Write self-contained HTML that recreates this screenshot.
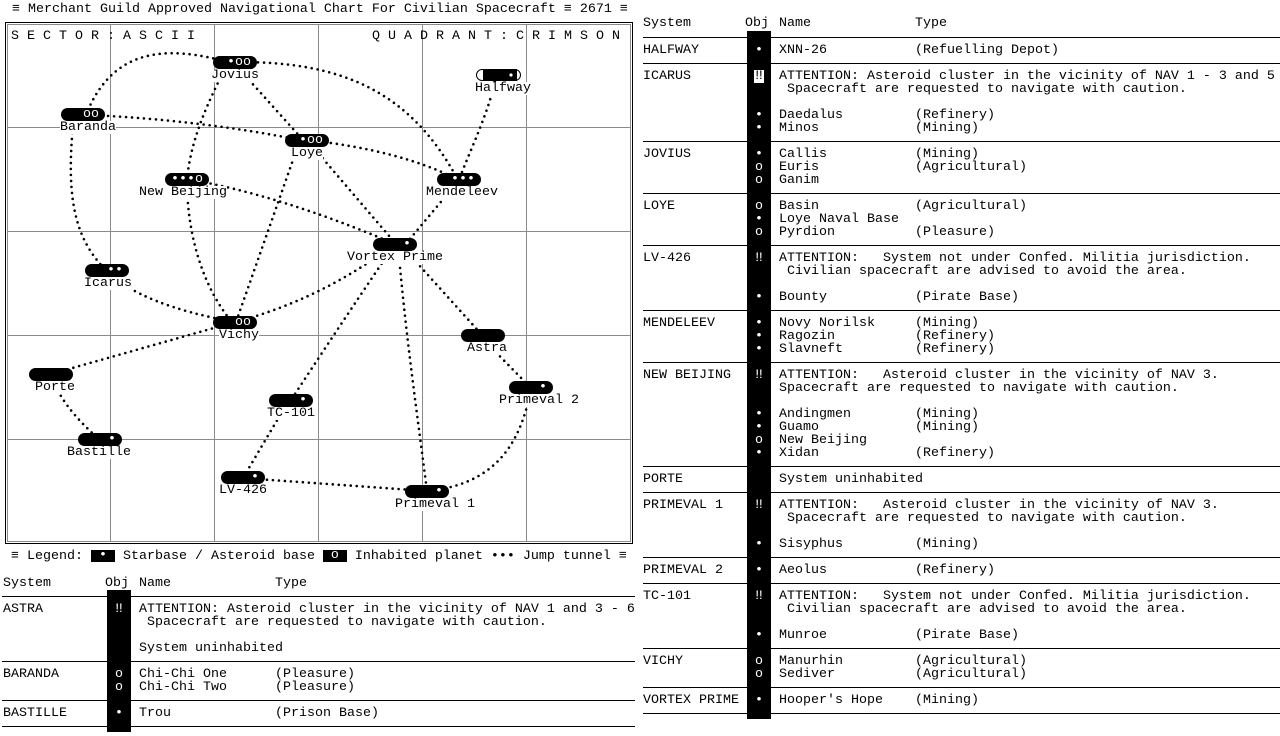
<!DOCTYPE html>
<html><head><meta charset="utf-8"><style>
*{margin:0;padding:0;box-sizing:content-box}
body{width:1280px;height:736px;overflow:hidden;background:#fff;color:#000;font-family:"Liberation Mono","DejaVu Sans Mono",monospace;font-size:13.333px;line-height:13px;position:relative}
.t{position:absolute;white-space:pre;line-height:13px;height:13px}
.w{color:#fff}
.p{position:absolute;width:38px;height:13px;background:#000;border-radius:6.5px;color:#fff;text-align:right;padding-right:6px;line-height:13px;white-space:pre;overflow:hidden}
.l{position:absolute;background:#fff;line-height:13px;height:13px;white-space:pre}
.hl{position:absolute;height:1px;background:#000;left:2px;width:633px}
.hr{position:absolute;height:1px;background:#000;left:643px;width:637px}
.bar{position:absolute;background:#000;width:24px}
.lb{display:inline-block;background:#000;color:#fff;height:12px;line-height:12px;vertical-align:top;margin-top:0}
</style></head><body>

<div class="t" style="left:12px;top:3px">≡ Merchant Guild Approved Navigational Chart For Civilian Spacecraft ≡ 2671 ≡</div>

<svg width="640" height="560" style="position:absolute;left:0;top:0" xmlns="http://www.w3.org/2000/svg">
<rect x="5.5" y="22.5" width="627" height="521" fill="none" stroke="#000"/>
<rect x="7.5" y="24.5" width="623" height="517" fill="none" stroke="#8a8a8a"/>
<path d="M110.5 25V541 M214.5 25V541 M318.5 25V541 M422.5 25V541 M526.5 25V541 M8 127.5H630 M8 231.5H630 M8 335.5H630 M8 439.5H630" stroke="#8a8a8a" fill="none"/>
<g fill="none" stroke="#000" stroke-width="2.6" stroke-linecap="round" stroke-dasharray="0 6">
<path d="M88 110 C110 60 150 42 220 60"/>
<path d="M74 115 C66 190 72 235 104 268"/>
<path d="M90 115 Q200 120 300 140"/>
<path d="M233 62 L303 140"/>
<path d="M240 62 C340 62 410 90 458 180"/>
<path d="M228 62 C215 90 192 130 187 179"/>
<path d="M496 76 C490 110 470 150 459 180"/>
<path d="M307 140 Q400 150 459 180"/>
<path d="M300 140 L236 322"/>
<path d="M307 140 L396 244"/>
<path d="M187 179 Q280 195 395 244"/>
<path d="M187 185 C188 240 205 290 232 322"/>
<path d="M460 179 L404 246"/>
<path d="M106 270 Q140 305 235 322"/>
<path d="M395 244 Q320 300 235 322"/>
<path d="M395 244 Q350 310 291 400"/>
<path d="M398 244 C405 330 418 420 427 491"/>
<path d="M400 244 L483 336"/>
<path d="M479 335 L531 388"/>
<path d="M235 322 L51 374"/>
<path d="M51 374 Q60 405 99 439"/>
<path d="M289 400 L243 478"/>
<path d="M243 478 L427 491"/>
<path d="M427 491 C490 485 520 450 531 388"/>
</g>
<rect x="476.5" y="69.5" width="44" height="11" rx="5.5" fill="#fff" stroke="#000"/>
<rect x="483" y="69" width="34" height="12" fill="#000"/>
<circle cx="511" cy="75" r="1.6" fill="#fff"/>
</svg>

<div class="t" style="left:11px;top:30px">S E C T O R : A S C I I</div>
<div class="t" style="left:372px;top:30px">Q U A D R A N T : C R I M S O N</div>

<!-- pills -->
<div class="p" style="left:213px;top:56px">•oo</div>
<div class="p" style="left:61px;top:108px">oo</div>
<div class="p" style="left:285px;top:134px">•oo</div>
<div class="p" style="left:165px;top:173px">•••o</div>
<div class="p" style="left:437px;top:173px">•••</div>
<div class="p" style="left:373px;top:238px">•</div>
<div class="p" style="left:85px;top:264px">••</div>
<div class="p" style="left:213px;top:316px">oo</div>
<div class="p" style="left:461px;top:329px"></div>
<div class="p" style="left:29px;top:368px"></div>
<div class="p" style="left:509px;top:381px">•</div>
<div class="p" style="left:269px;top:394px">•</div>
<div class="p" style="left:78px;top:433px">•</div>
<div class="p" style="left:221px;top:471px">•</div>
<div class="p" style="left:405px;top:485px">•</div>

<!-- labels -->
<div class="l" style="left:211px;top:69px">Jovius</div>
<div class="l" style="left:475px;top:82px">Halfway</div>
<div class="l" style="left:60px;top:121px">Baranda</div>
<div class="l" style="left:291px;top:147px">Loye</div>
<div class="l" style="left:139px;top:186px">New Beijing</div>
<div class="l" style="left:426px;top:186px">Mendeleev</div>
<div class="l" style="left:347px;top:251px">Vortex Prime</div>
<div class="l" style="left:84px;top:277px">Icarus</div>
<div class="l" style="left:219px;top:329px">Vichy</div>
<div class="l" style="left:467px;top:342px">Astra</div>
<div class="l" style="left:35px;top:381px">Porte</div>
<div class="l" style="left:499px;top:394px">Primeval 2</div>
<div class="l" style="left:267px;top:407px">TC-101</div>
<div class="l" style="left:67px;top:446px">Bastille</div>
<div class="l" style="left:219px;top:484px">LV-426</div>
<div class="l" style="left:395px;top:498px">Primeval 1</div>

<!-- legend -->
<div class="t" style="left:11px;top:550px">≡ Legend: <span class="lb"> • </span> Starbase / Asteroid base <span class="lb"> o </span> Inhabited planet ••• Jump tunnel ≡</div>

<!-- LEFT TABLE -->
<div class="bar" style="left:107px;top:590px;height:142px"></div>
<div class="t" style="left:3px;top:577px">System</div>
<div class="t" style="left:105px;top:577px">Obj</div>
<div class="t" style="left:139px;top:577px">Name</div>
<div class="t" style="left:275px;top:577px">Type</div>
<div class="hl" style="top:596px"></div>
<div class="hl" style="top:661px"></div>
<div class="hl" style="top:700px"></div>
<div class="hl" style="top:726px"></div>

<div class="t" style="left:3px;top:603px">ASTRA</div>
<div class="t w" style="left:115px;top:603px">‼</div>
<div class="t" style="left:139px;top:603px">ATTENTION: Asteroid cluster in the vicinity of NAV 1 and 3 - 6</div>
<div class="t" style="left:139px;top:616px"> Spacecraft are requested to navigate with caution.</div>
<div class="t" style="left:139px;top:642px">System uninhabited</div>

<div class="t" style="left:3px;top:668px">BARANDA</div>
<div class="t w" style="left:115px;top:668px">o</div>
<div class="t" style="left:139px;top:668px">Chi-Chi One</div>
<div class="t" style="left:275px;top:668px">(Pleasure)</div>
<div class="t w" style="left:115px;top:681px">o</div>
<div class="t" style="left:139px;top:681px">Chi-Chi Two</div>
<div class="t" style="left:275px;top:681px">(Pleasure)</div>

<div class="t" style="left:3px;top:707px">BASTILLE</div>
<div class="t w" style="left:115px;top:707px">•</div>
<div class="t" style="left:139px;top:707px">Trou</div>
<div class="t" style="left:275px;top:707px">(Prison Base)</div>

<!-- RIGHT TABLE -->
<div class="bar" style="left:747px;top:31px;height:688px"></div>
<div class="t" style="left:643px;top:17px">System</div>
<div class="t" style="left:745px;top:17px">Obj</div>
<div class="t" style="left:779px;top:17px">Name</div>
<div class="t" style="left:915px;top:17px">Type</div>
<div class="hr" style="top:37px"></div>
<div class="hr" style="top:63px"></div>
<div class="hr" style="top:141px"></div>
<div class="hr" style="top:193px"></div>
<div class="hr" style="top:245px"></div>
<div class="hr" style="top:310px"></div>
<div class="hr" style="top:362px"></div>
<div class="hr" style="top:466px"></div>
<div class="hr" style="top:492px"></div>
<div class="hr" style="top:557px"></div>
<div class="hr" style="top:583px"></div>
<div class="hr" style="top:648px"></div>
<div class="hr" style="top:687px"></div>
<div class="hr" style="top:713px"></div>

<!-- HALFWAY -->
<div class="t" style="left:643px;top:44px">HALFWAY</div>
<div class="t w" style="left:755px;top:44px">•</div>
<div class="t" style="left:779px;top:44px">XNN-26</div>
<div class="t" style="left:915px;top:44px">(Refuelling Depot)</div>

<!-- ICARUS -->
<div class="t" style="left:643px;top:70px">ICARUS</div>
<div class="t" style="left:754px;top:70px;background:#fff;width:10px;text-align:center">‼</div>
<div class="t" style="left:779px;top:70px">ATTENTION: Asteroid cluster in the vicinity of NAV 1 - 3 and 5</div>
<div class="t" style="left:779px;top:83px"> Spacecraft are requested to navigate with caution.</div>
<div class="t w" style="left:755px;top:109px">•</div>
<div class="t" style="left:779px;top:109px">Daedalus</div>
<div class="t" style="left:915px;top:109px">(Refinery)</div>
<div class="t w" style="left:755px;top:122px">•</div>
<div class="t" style="left:779px;top:122px">Minos</div>
<div class="t" style="left:915px;top:122px">(Mining)</div>

<!-- JOVIUS -->
<div class="t" style="left:643px;top:148px">JOVIUS</div>
<div class="t w" style="left:755px;top:148px">•</div>
<div class="t" style="left:779px;top:148px">Callis</div>
<div class="t" style="left:915px;top:148px">(Mining)</div>
<div class="t w" style="left:755px;top:161px">o</div>
<div class="t" style="left:779px;top:161px">Euris</div>
<div class="t" style="left:915px;top:161px">(Agricultural)</div>
<div class="t w" style="left:755px;top:174px">o</div>
<div class="t" style="left:779px;top:174px">Ganim</div>

<!-- LOYE -->
<div class="t" style="left:643px;top:200px">LOYE</div>
<div class="t w" style="left:755px;top:200px">o</div>
<div class="t" style="left:779px;top:200px">Basin</div>
<div class="t" style="left:915px;top:200px">(Agricultural)</div>
<div class="t w" style="left:755px;top:213px">•</div>
<div class="t" style="left:779px;top:213px">Loye Naval Base</div>
<div class="t w" style="left:755px;top:226px">o</div>
<div class="t" style="left:779px;top:226px">Pyrdion</div>
<div class="t" style="left:915px;top:226px">(Pleasure)</div>

<!-- LV-426 -->
<div class="t" style="left:643px;top:252px">LV-426</div>
<div class="t w" style="left:755px;top:252px">‼</div>
<div class="t" style="left:779px;top:252px">ATTENTION:   System not under Confed. Militia jurisdiction.</div>
<div class="t" style="left:779px;top:265px"> Civilian spacecraft are advised to avoid the area.</div>
<div class="t w" style="left:755px;top:291px">•</div>
<div class="t" style="left:779px;top:291px">Bounty</div>
<div class="t" style="left:915px;top:291px">(Pirate Base)</div>

<!-- MENDELEEV -->
<div class="t" style="left:643px;top:317px">MENDELEEV</div>
<div class="t w" style="left:755px;top:317px">•</div>
<div class="t" style="left:779px;top:317px">Novy Norilsk</div>
<div class="t" style="left:915px;top:317px">(Mining)</div>
<div class="t w" style="left:755px;top:330px">•</div>
<div class="t" style="left:779px;top:330px">Ragozin</div>
<div class="t" style="left:915px;top:330px">(Refinery)</div>
<div class="t w" style="left:755px;top:343px">•</div>
<div class="t" style="left:779px;top:343px">Slavneft</div>
<div class="t" style="left:915px;top:343px">(Refinery)</div>

<!-- NEW BEIJING -->
<div class="t" style="left:643px;top:369px">NEW BEIJING</div>
<div class="t w" style="left:755px;top:369px">‼</div>
<div class="t" style="left:779px;top:369px">ATTENTION:   Asteroid cluster in the vicinity of NAV 3.</div>
<div class="t" style="left:779px;top:382px">Spacecraft are requested to navigate with caution.</div>
<div class="t w" style="left:755px;top:408px">•</div>
<div class="t" style="left:779px;top:408px">Andingmen</div>
<div class="t" style="left:915px;top:408px">(Mining)</div>
<div class="t w" style="left:755px;top:421px">•</div>
<div class="t" style="left:779px;top:421px">Guamo</div>
<div class="t" style="left:915px;top:421px">(Mining)</div>
<div class="t w" style="left:755px;top:434px">o</div>
<div class="t" style="left:779px;top:434px">New Beijing</div>
<div class="t w" style="left:755px;top:447px">•</div>
<div class="t" style="left:779px;top:447px">Xidan</div>
<div class="t" style="left:915px;top:447px">(Refinery)</div>

<!-- PORTE -->
<div class="t" style="left:643px;top:473px">PORTE</div>
<div class="t" style="left:779px;top:473px">System uninhabited</div>

<!-- PRIMEVAL 1 -->
<div class="t" style="left:643px;top:499px">PRIMEVAL 1</div>
<div class="t w" style="left:755px;top:499px">‼</div>
<div class="t" style="left:779px;top:499px">ATTENTION:   Asteroid cluster in the vicinity of NAV 3.</div>
<div class="t" style="left:779px;top:512px"> Spacecraft are requested to navigate with caution.</div>
<div class="t w" style="left:755px;top:538px">•</div>
<div class="t" style="left:779px;top:538px">Sisyphus</div>
<div class="t" style="left:915px;top:538px">(Mining)</div>

<!-- PRIMEVAL 2 -->
<div class="t" style="left:643px;top:564px">PRIMEVAL 2</div>
<div class="t w" style="left:755px;top:564px">•</div>
<div class="t" style="left:779px;top:564px">Aeolus</div>
<div class="t" style="left:915px;top:564px">(Refinery)</div>

<!-- TC-101 -->
<div class="t" style="left:643px;top:590px">TC-101</div>
<div class="t w" style="left:755px;top:590px">‼</div>
<div class="t" style="left:779px;top:590px">ATTENTION:   System not under Confed. Militia jurisdiction.</div>
<div class="t" style="left:779px;top:603px"> Civilian spacecraft are advised to avoid the area.</div>
<div class="t w" style="left:755px;top:629px">•</div>
<div class="t" style="left:779px;top:629px">Munroe</div>
<div class="t" style="left:915px;top:629px">(Pirate Base)</div>

<!-- VICHY -->
<div class="t" style="left:643px;top:655px">VICHY</div>
<div class="t w" style="left:755px;top:655px">o</div>
<div class="t" style="left:779px;top:655px">Manurhin</div>
<div class="t" style="left:915px;top:655px">(Agricultural)</div>
<div class="t w" style="left:755px;top:668px">o</div>
<div class="t" style="left:779px;top:668px">Sediver</div>
<div class="t" style="left:915px;top:668px">(Agricultural)</div>

<!-- VORTEX PRIME -->
<div class="t" style="left:643px;top:694px">VORTEX PRIME</div>
<div class="t w" style="left:755px;top:694px">•</div>
<div class="t" style="left:779px;top:694px">Hooper's Hope</div>
<div class="t" style="left:915px;top:694px">(Mining)</div>

</body></html>
